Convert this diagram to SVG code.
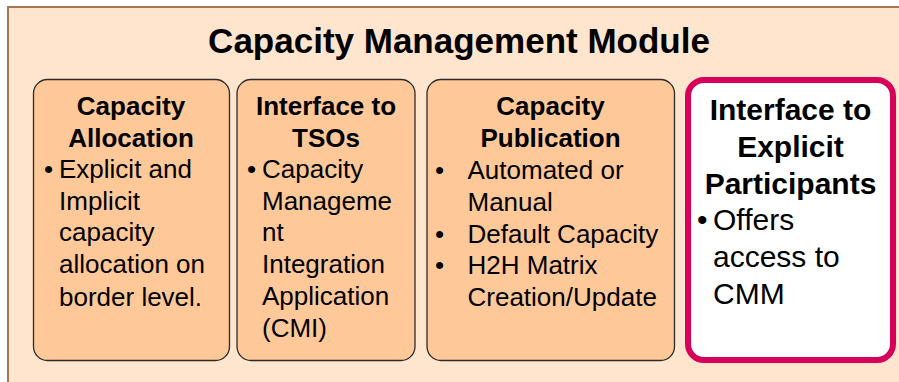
<svg xmlns="http://www.w3.org/2000/svg" width="899" height="382" viewBox="0 0 899 382">
<style>
.t{font-family:"Liberation Sans",Arial,sans-serif;fill:#000}
.h{font-weight:bold;font-size:26px;text-anchor:middle}
.b{font-size:26px}
.h4{font-weight:bold;font-size:30px;text-anchor:middle}
.b4{font-size:30px}
.box{fill:#FFC899;stroke:#2b2b2b;stroke-width:1.3}
</style>
<rect x="8" y="7" width="900" height="385" fill="#FFE4CE" stroke="#A67650" stroke-width="2"/>
<text class="t" x="459" y="53" font-size="35" font-weight="bold" text-anchor="middle">Capacity Management Module</text>
<g id="capacity-allocation">
<rect class="box" x="33.5" y="79.5" width="196" height="281" rx="14"/>
<text class="t h" x="131" y="115">Capacity</text>
<text class="t h" x="131" y="147">Allocation</text>
<text class="t b" x="44" y="178">•</text>
<text class="t b" x="59" y="178">Explicit and</text>
<text class="t b" x="59" y="210">Implicit</text>
<text class="t b" x="59" y="241">capacity</text>
<text class="t b" x="59" y="273">allocation on</text>
<text class="t b" x="59" y="306">border level.</text>
</g>
<g id="interface-tsos">
<rect class="box" x="237" y="79.5" width="178" height="281" rx="14"/>
<text class="t h" x="326" y="115">Interface to</text>
<text class="t h" x="326" y="147">TSOs</text>
<text class="t b" x="247" y="178">•</text>
<text class="t b" x="262" y="178">Capacity</text>
<text class="t b" x="262" y="209.5">Manageme</text>
<text class="t b" x="262" y="240.5">nt</text>
<text class="t b" x="262" y="272.5">Integration</text>
<text class="t b" x="262" y="305">Application</text>
<text class="t b" x="262" y="337">(CMI)</text>
</g>
<g id="capacity-publication">
<rect class="box" x="427" y="79.5" width="247.5" height="281" rx="14"/>
<text class="t h" x="550.5" y="115">Capacity</text>
<text class="t h" x="550.5" y="147">Publication</text>
<text class="t b" x="435" y="179">•</text>
<text class="t b" x="467.5" y="179">Automated or</text>
<text class="t b" x="467.5" y="210.5">Manual</text>
<text class="t b" x="435" y="243">•</text>
<text class="t b" x="467.5" y="243">Default Capacity</text>
<text class="t b" x="435" y="274">•</text>
<text class="t b" x="467.5" y="274">H2H Matrix</text>
<text class="t b" x="467.5" y="305.5">Creation/Update</text>
</g>
<g id="interface-explicit-participants">
<rect x="688" y="80" width="205" height="280" rx="16" fill="#FFFFFF" stroke="#D6005A" stroke-width="6"/>
<text class="t h4" x="790.5" y="120">Interface to</text>
<text class="t h4" x="790.5" y="157">Explicit</text>
<text class="t h4" x="790.5" y="194">Participants</text>
<text class="t b4" x="697" y="230">•</text>
<text class="t b4" x="713" y="230">Offers</text>
<text class="t b4" x="713" y="267">access to</text>
<text class="t b4" x="713" y="303.5">CMM</text>
</g>
<g id="connectors"/>
</svg>
